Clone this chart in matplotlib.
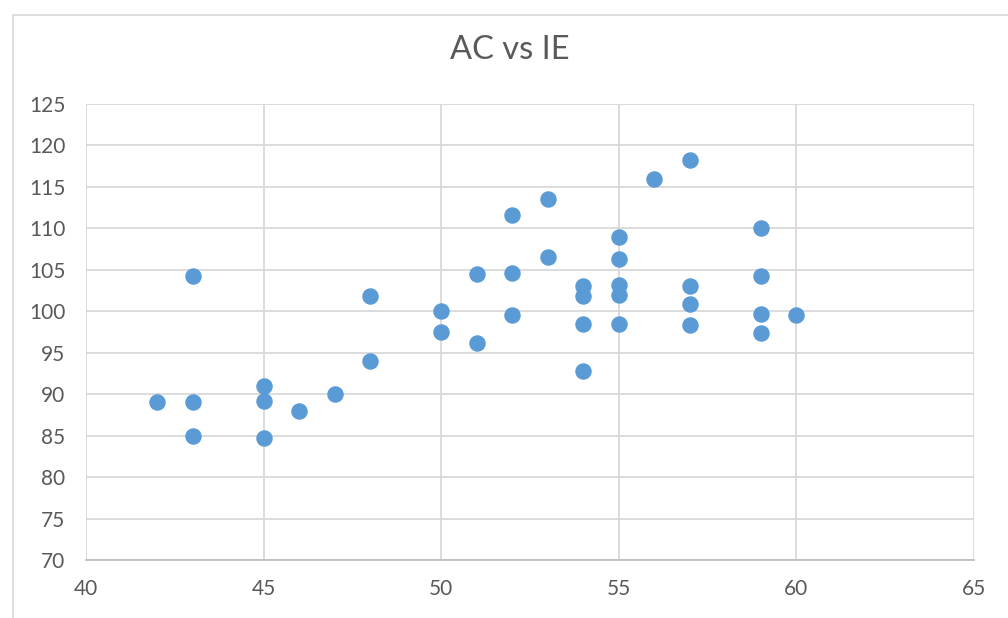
import matplotlib
matplotlib.use('Agg')
import matplotlib.pyplot as plt
from matplotlib.lines import Line2D

# Datos: IE (x) vs AC (y)
ie = [42, 43, 43, 43, 45, 45, 45, 46, 47, 48, 48,
      50, 50, 51, 51, 52, 52, 52, 53, 53,
      54, 54, 54, 54, 55, 55, 55, 55, 55,
      56, 57, 57, 57, 57, 59, 59, 59, 59, 60]
ac = [89, 104.3, 89, 85, 91, 89.2, 84.7, 88, 90, 101.8, 94,
      100, 97.5, 104.5, 96.2, 111.6, 104.6, 99.5, 113.5, 106.6,
      103, 101.9, 98.5, 92.8, 109, 106.3, 103.2, 102, 98.5,
      116, 118.3, 103.1, 100.9, 98.4, 110, 104.3, 99.7, 97.4, 99.6]
x_ticks = [40, 45, 50, 55, 60, 65]
y_ticks = list(range(70, 126, 5))

plt.rcParams['font.family'] = ['Lato', 'DejaVu Sans']
txt = '#595959'
grid = '#d9d9d9'

fig = plt.figure(figsize=(10.08, 6.18), dpi=100)
ax = fig.add_axes([86 / 1008, 58 / 618, 888 / 1008, 456 / 618])

ax.scatter(ie, ac, s=118, color='#5b9bd5', edgecolors='#5b9bd5', zorder=3)

ax.set_xlim(40, 65)
ax.set_ylim(70, 125)
ax.set_xticks(x_ticks)
ax.set_yticks(y_ticks)
ax.grid(True, color=grid, linewidth=1.3, zorder=0)
ax.set_axisbelow(True)
for s in ['top', 'right', 'left']:
    ax.spines[s].set_visible(False)
ax.spines['bottom'].set_color('#bfbfbf')
ax.spines['bottom'].set_linewidth(1.3)
ax.tick_params(length=0, labelsize=15, labelcolor=txt)
ax.tick_params(axis='x', pad=14)
ax.tick_params(axis='y', pad=15)

fig.text(0.506, 0.919, 'AC vs IE', ha='center', va='center',
         fontsize=23.5, color=txt)

# borde del área del gráfico
fig.add_artist(Line2D([13 / 1008, 13 / 1008], [0, 1 - 15 / 618],
                      transform=fig.transFigure, color=grid, lw=1.2))
fig.add_artist(Line2D([13 / 1008, 1], [1 - 15 / 618, 1 - 15 / 618],
                      transform=fig.transFigure, color=grid, lw=1.2))

fig.savefig('out.png', dpi=100)
